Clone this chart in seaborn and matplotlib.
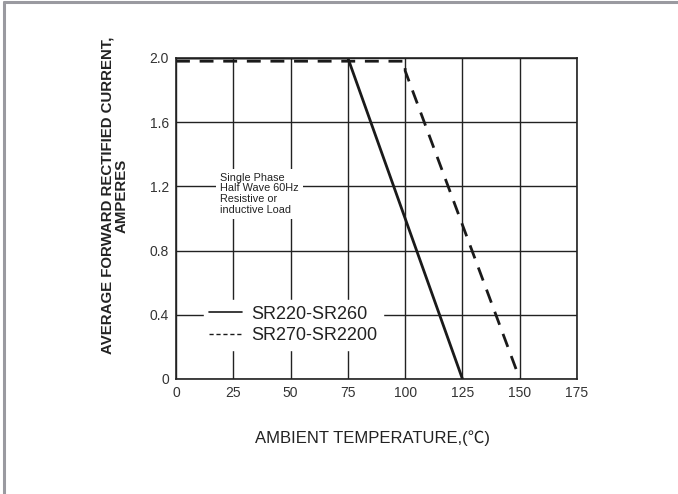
import matplotlib
matplotlib.use("Agg")
import matplotlib.pyplot as plt
import matplotlib.lines as mlines
import pandas as pd
import seaborn as sns

# derating curves
temp_a = [0, 75, 125]
current_a = [2.0, 2.0, 0.0]
temp_b = [0, 100, 100, 150]
current_b = [1.98, 1.98, 1.92, 0.0]
series_names = ["SR220-SR260", "SR270-SR2200"]
x_ticks = [0, 25, 50, 75, 100, 125, 150, 175]
y_ticks = [0, 0.4, 0.8, 1.2, 1.6, 2.0]
y_ticklabels = ["0", "0.4", "0.8", "1.2", "1.6", "2.0"]

df = pd.concat([
    pd.DataFrame({"temp": temp_a, "current": current_a, "series": series_names[0]}),
    pd.DataFrame({"temp": temp_b, "current": current_b, "series": series_names[1]}),
])

sns.set_style("white")
plt.rcParams["font.family"] = ["Liberation Sans", "Noto Sans CJK SC", "DejaVu Sans"]

fig = plt.figure(figsize=(6.78, 4.94), dpi=100)
ax = fig.add_axes([0.2596, 0.2328, 0.5915, 0.6498])

sns.lineplot(data=df, x="temp", y="current", hue="series", style="series",
             palette=["#1a1a1a", "#1a1a1a"], dashes=[(None, None), (5, 3.5)],
             linewidth=2.0, sort=False, estimator=None, legend=False, ax=ax)

ax.set_xlim(0, 175)
ax.set_ylim(0, 2.0)
ax.set_xticks(x_ticks)
ax.set_yticks(y_ticks)
ax.set_yticklabels(y_ticklabels)
ax.grid(True, color="#222222", linewidth=1.0)
ax.set_axisbelow(True)
for s in ax.spines.values():
    s.set_color("#222222")
    s.set_linewidth(1.2)
ax.tick_params(axis="both", length=0, labelsize=10, colors="#333333", pad=5)
ax.set_xlabel("")
ax.set_ylabel("")

# annotation box
ax.text(19.2, 1.285, "Single Phase\nHalf Wave 60Hz\nResistive or\ninductive Load",
        fontsize=7.8, color="#222222", va="top", ha="left", linespacing=1.08,
        bbox=dict(facecolor="white", edgecolor="none", pad=3), zorder=3)

# legend
handles = [
    mlines.Line2D([], [], color="#1a1a1a", linewidth=1.2, linestyle="-"),
    mlines.Line2D([], [], color="#1a1a1a", linewidth=1.0, linestyle=(0, (3, 2))),
]
leg = ax.legend(handles, series_names, loc="upper left", bbox_to_anchor=(0.07, 0.245),
                frameon=True, facecolor="white", edgecolor="white", framealpha=1,
                fontsize=13, handlelength=1.8, handletextpad=0.5, labelspacing=0.25,
                borderpad=0.3, borderaxespad=0)
for t in leg.get_texts():
    t.set_color("#222222")
leg.set_zorder(4)

fig.text(0.549, 0.113, "AMBIENT TEMPERATURE,(\u2103)", ha="center", va="center",
         fontsize=12, color="#222222")
fig.text(0.169, 0.604, "AVERAGE FORWARD RECTIFIED CURRENT,\nAMPERES", ha="center",
         va="center", rotation=90, fontsize=10.8, fontweight="bold",
         color="#222222", linespacing=1.0)

# grey page border on the left and top
fig.add_artist(mlines.Line2D([0.0066, 0.0066], [0, 0.996], color="#9a9aa0",
                             linewidth=2.2, transform=fig.transFigure))
fig.add_artist(mlines.Line2D([0.0066, 1], [0.996, 0.996], color="#9a9aa0",
                             linewidth=2.2, transform=fig.transFigure))

fig.savefig("out.png", dpi=100, facecolor="white")
